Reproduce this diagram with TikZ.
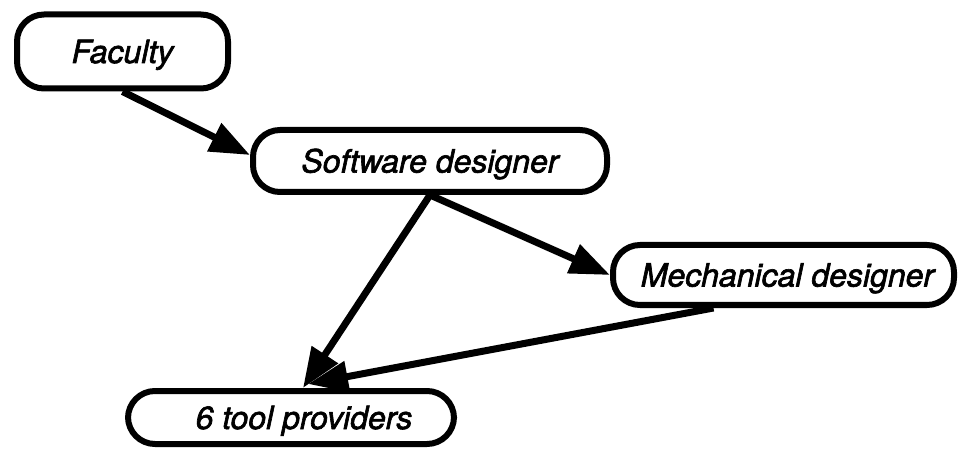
\documentclass[tikz,border=0pt]{standalone}
\usepackage{fontspec}
\setmainfont{TeX Gyre Heros}
\newfontfamily\hvfont[FakeBold=2]{TeX Gyre Heros}
\usetikzlibrary{arrows.meta}
\begin{document}
\begin{tikzpicture}[x=1pt,y=-1pt,
  box/.style={draw=black, line width=6pt, rounded corners=27pt, inner sep=0pt,
    font=\fontsize{32}{36}\hvfont\itshape, text height=25pt, text depth=2pt, fill=white},
  arr/.style={line width=7pt, -{Triangle[length=40pt,width=30pt]}}]
\useasboundingbox[fill=white] (0,0) rectangle (959,449);
\node[box, minimum width=211pt, minimum height=74pt] (fac) at (122.5,51.5) {Faculty};
\node[box, minimum width=354pt, minimum height=62pt] (sw) at (430,161) {Software designer};
\node[box, minimum width=341pt, minimum height=60pt] (mech) at (783.5,275) {\hspace*{8pt}Mechanical designer};
\node[box, minimum width=326pt, minimum height=53pt] (tool) at (291,417.5) {\hspace*{26pt}6 tool providers};
\draw[arr] (fac.south) -- ([yshift=6pt]sw.west);
\draw[arr] (sw.south) -- (mech.west);
\draw[arr] (sw.south) -- ([xshift=12pt]tool.north);
\draw[arr] ([xshift=-70pt]mech.south) -- ([xshift=17pt,yshift=4pt]tool.north);
\end{tikzpicture}
\end{document}
